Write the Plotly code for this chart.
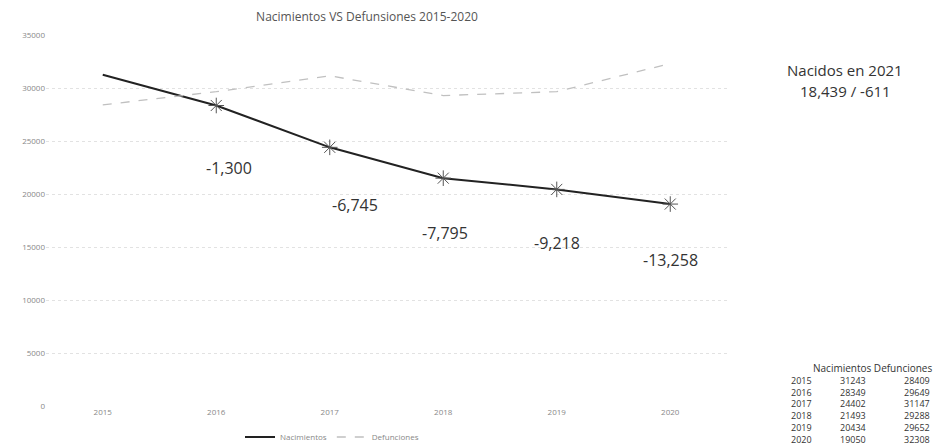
import plotly.graph_objects as go

years = [2015, 2016, 2017, 2018, 2019, 2020]
nacimientos = [31243, 28349, 24402, 21493, 20434, 19050]
defunciones = [28409, 29649, 31147, 29288, 29652, 32308]
diff_labels = ["-1,300", "-6,745", "-7,795", "-9,218", "-13,258"]
diff_years = [2016, 2017, 2018, 2019, 2020]
diff_y = [22450, 18960, 16320, 15380, 13770]
diff_shift = [13, 25, 2, 0, 0]
y_ticks = [0, 5000, 10000, 15000, 20000, 25000, 30000, 35000]
table_header = "Nacimientos Defunciones"

FONT = "Open Sans"
OFF = 8                      # page body margin of the browser (top/left)
W, H = 949 - OFF, 448 - OFF
PLOT_LEFT, PLOT_RIGHT, PLOT_TOP, PLOT_BOTTOM = 46, 727, 35, 406
L = PLOT_LEFT - OFF
T = PLOT_TOP - OFF
R = W - (PLOT_RIGHT - OFF)
B = H - (PLOT_BOTTOM - OFF)
PW = W - L - R
PH = H - T - B


def px(xp):
    return (xp - OFF - L) / PW


def py(yp):
    return (PLOT_BOTTOM - yp) / PH


fig = go.Figure()
fig.add_trace(go.Scatter(
    x=years, y=nacimientos, mode="lines", name="Nacimientos",
    line=dict(color="#222222", width=2),
))
fig.add_trace(go.Scatter(
    x=years, y=defunciones, mode="lines", name="Defunciones",
    line=dict(color="#c0c0c0", width=1.3, dash="dash"),
))
fig.add_trace(go.Scatter(
    x=years[1:], y=nacimientos[1:], mode="markers", showlegend=False,
    marker=dict(symbol="asterisk-open", size=13, color="#555555",
                line=dict(color="#555555", width=1)),
))

ann = []
for yr, yv, lab, sh in zip(diff_years, diff_y, diff_labels, diff_shift):
    ann.append(dict(x=yr, y=yv, xref="x", yref="y", text=lab, showarrow=False,
                    xanchor="center", yanchor="middle", xshift=sh,
                    font=dict(family=FONT, size=16, color="#333333")))

big = dict(family=FONT, size=15, color="#333333")
ann.append(dict(x=px(845), y=py(70), xref="paper", yref="paper",
                text="Nacidos en 2021", showarrow=False,
                xanchor="center", yanchor="middle", font=big))
ann.append(dict(x=px(845), y=py(91), xref="paper", yref="paper",
                text="18,439 / -611", showarrow=False,
                xanchor="center", yanchor="middle", font=big))

# data table (one multi-line text per column)
tfont = dict(family=FONT, size=9, color="#333333")
ann.append(dict(x=px(872), y=py(368), xref="paper", yref="paper",
                text=table_header, showarrow=False, xanchor="center",
                yanchor="middle", font=dict(family=FONT, size=10, color="#333333")))
block_y = py(409.5)
ann.append(dict(x=px(789), y=block_y, xref="paper", yref="paper",
                text="<br>".join(str(v) for v in years), showarrow=False,
                xanchor="left", yanchor="middle", align="left", font=tfont))
ann.append(dict(x=px(853), y=block_y, xref="paper", yref="paper",
                text="<br>".join(str(v) for v in nacimientos), showarrow=False,
                xanchor="center", yanchor="middle", align="center", font=tfont))
ann.append(dict(x=px(932), y=block_y, xref="paper", yref="paper",
                text="<br>".join(str(v) for v in defunciones), showarrow=False,
                xanchor="right", yanchor="middle", align="right", font=tfont))

fig.update_layout(
    width=W, height=H,
    margin=dict(l=L, r=R, t=T, b=B, autoexpand=False),
    paper_bgcolor="white", plot_bgcolor="white",
    title=dict(text="Nacimientos VS Defunsiones 2015-2020", x=(367 - OFF) / W,
               xanchor="center", y=1 - (17 - OFF) / H, yanchor="middle",
               font=dict(family=FONT, size=12, color="#555555")),
    xaxis=dict(range=[2014.5, 2020.5], tickvals=years, tickformat="d",
               showgrid=False, zeroline=False, showline=False,
               ticks="", tickfont=dict(family=FONT, size=8, color="#888888")),
    yaxis=dict(range=[0, 35000], tickvals=y_ticks, tickformat="d", showgrid=True,
               gridcolor="#e2e2e2", griddash="dot", zeroline=False, showline=False,
               ticks="", tickfont=dict(family=FONT, size=8, color="#888888")),
    legend=dict(orientation="h", x=px(332), xanchor="center", y=py(437),
                yanchor="middle", font=dict(family=FONT, size=8, color="#888888"),
                bgcolor="rgba(0,0,0,0)"),
    annotations=ann,
    showlegend=True,
)

fig.write_html("out.html")
